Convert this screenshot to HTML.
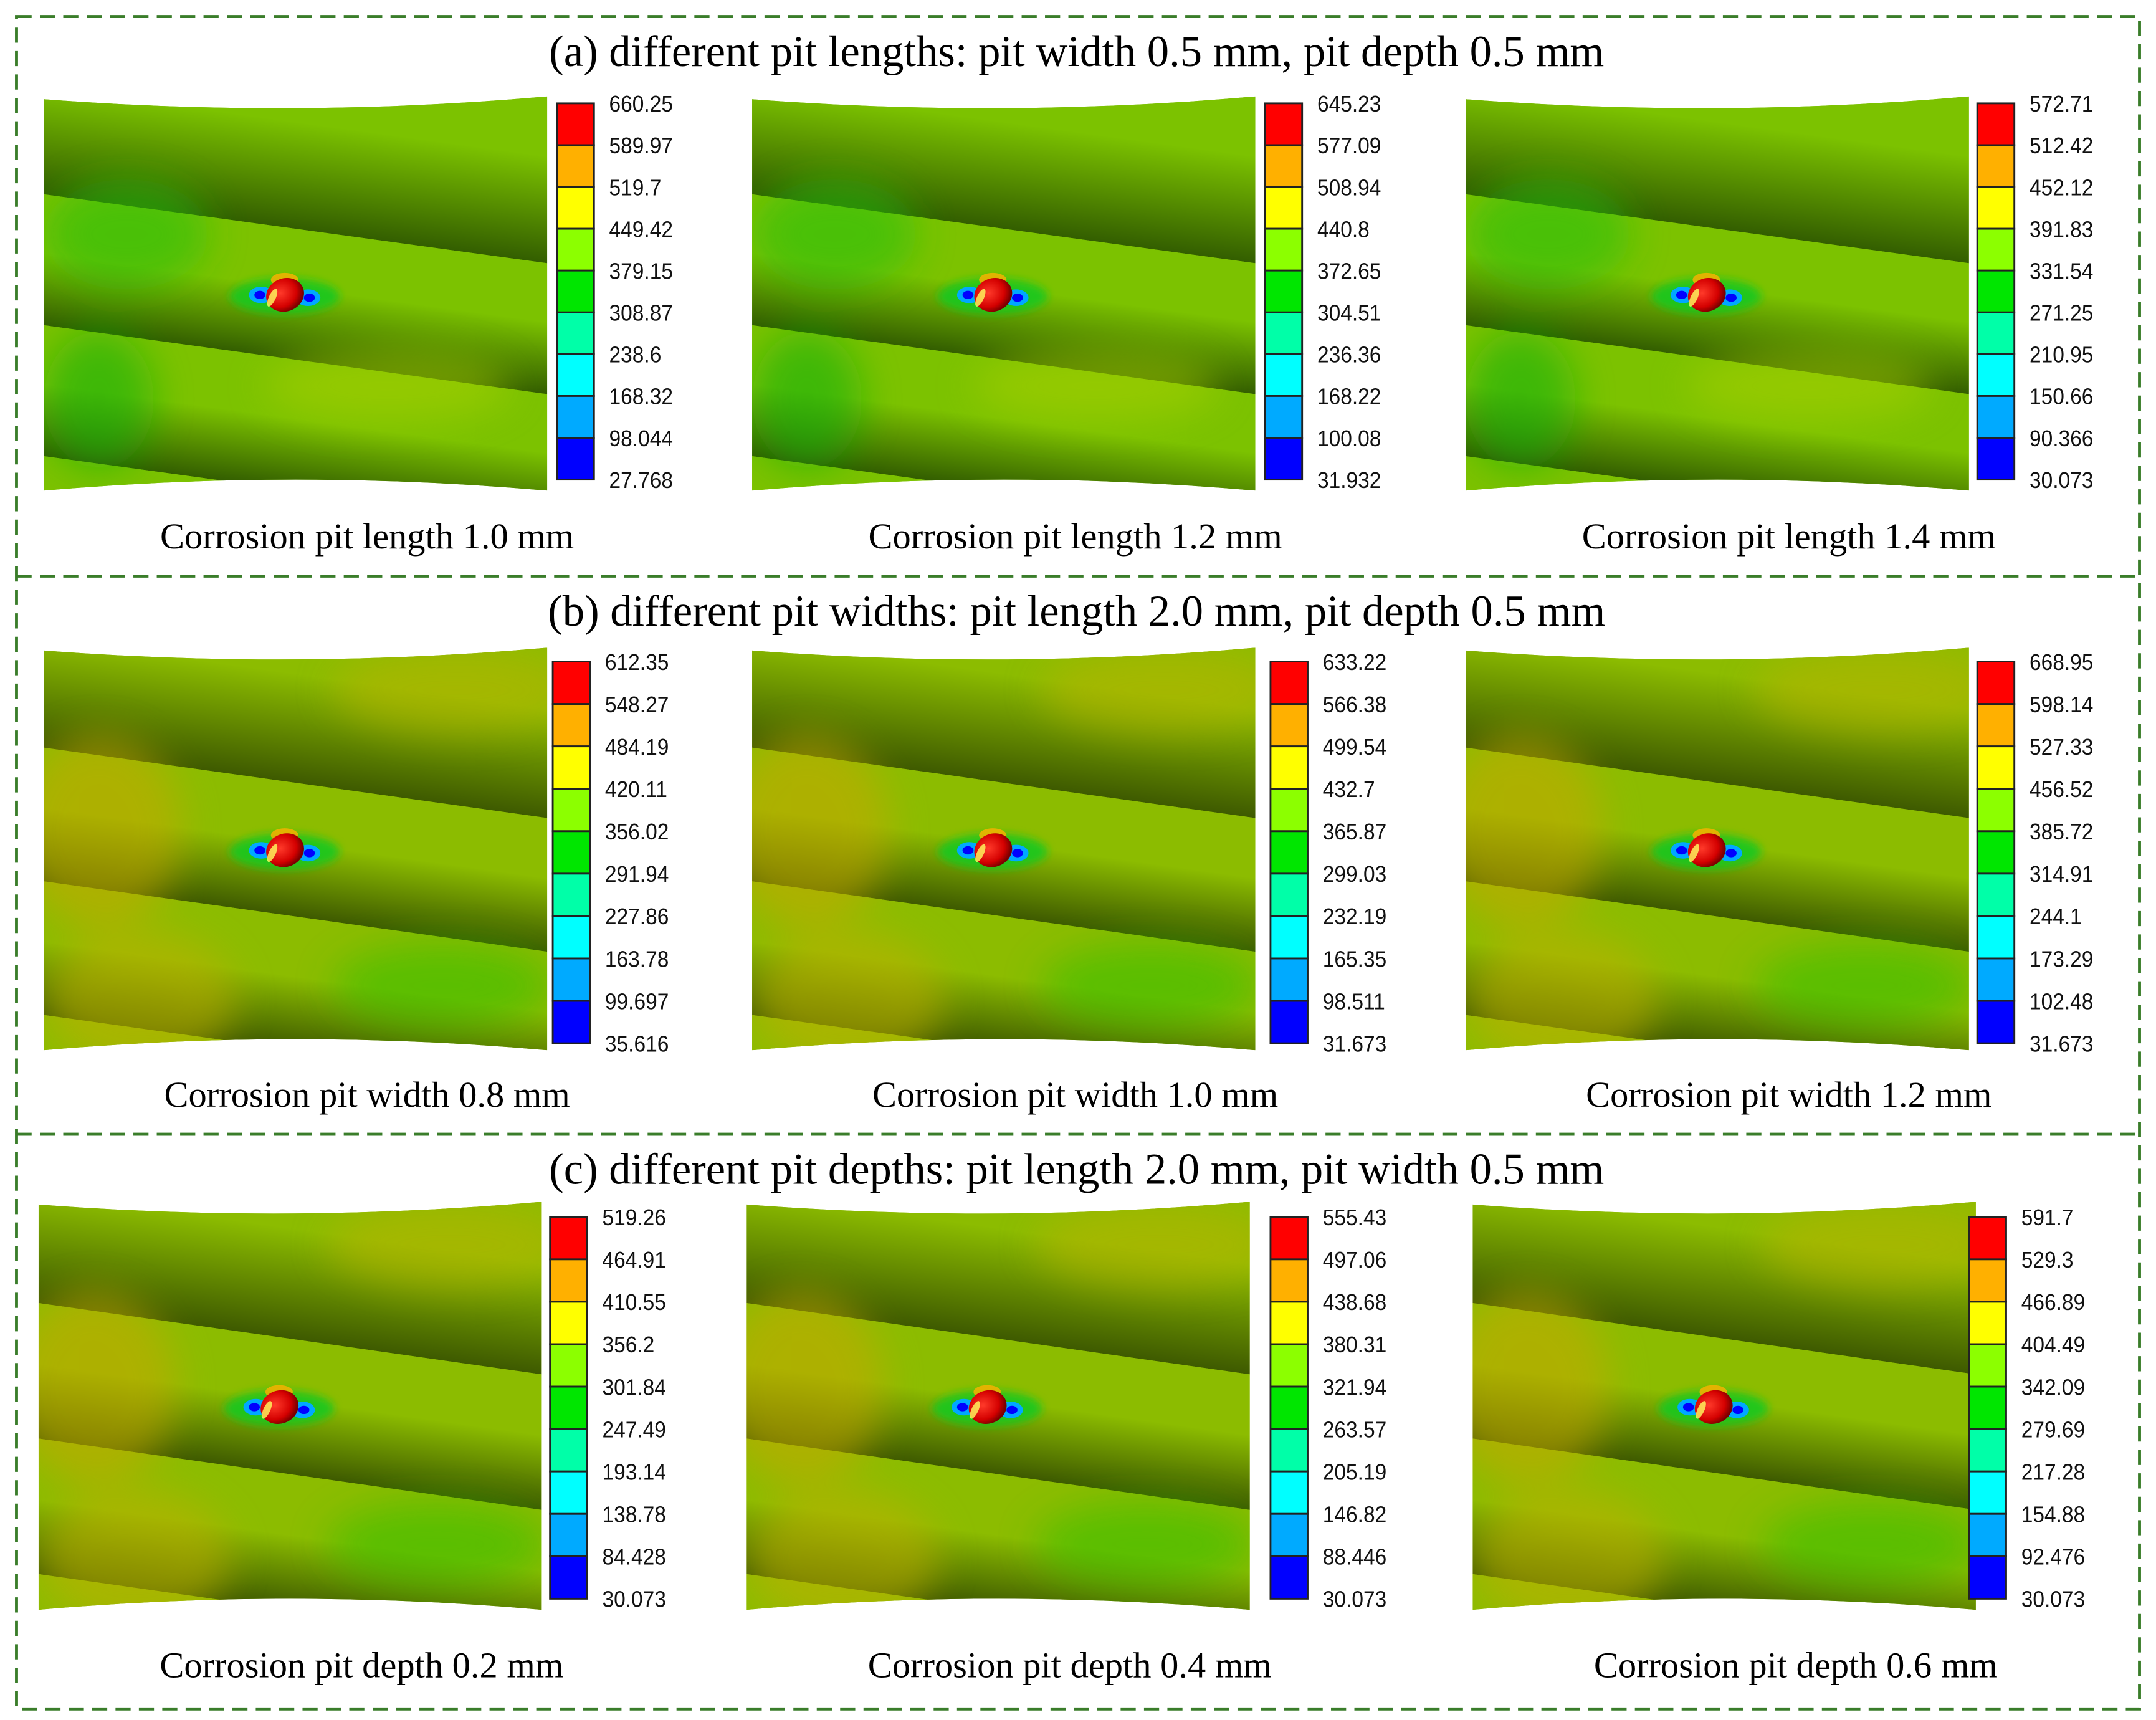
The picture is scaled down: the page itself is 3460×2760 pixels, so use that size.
<!DOCTYPE html>
<html><head><meta charset="utf-8"><style>
html,body{margin:0;padding:0;background:#fff}
svg{display:block}
</style></head><body>
<svg id="fig" width="3460" height="2760" viewBox="0 0 1568 1248" preserveAspectRatio="none" xmlns="http://www.w3.org/2000/svg">
<defs>
<filter id="blur" x="-50%" y="-50%" width="200%" height="200%"><feGaussianBlur stdDeviation="14"/></filter>
<filter id="blur2" x="-50%" y="-50%" width="200%" height="200%"><feGaussianBlur stdDeviation="3"/></filter>
<radialGradient id="pitg" cx="0.4" cy="0.4" r="0.6"><stop offset="0" stop-color="#ff3a2a"/><stop offset="0.7" stop-color="#d40000"/><stop offset="1" stop-color="#7a0000"/></radialGradient>
</defs>
<g fill="none" stroke="#3a7d2a" stroke-width="2.2" stroke-dasharray="11,6">
<rect x="12" y="12" width="1544" height="1228"/>
<line x1="12" y1="418" x2="1556" y2="418"/>
<line x1="12" y1="823" x2="1556" y2="823"/>
</g>
<g id="content"></g>
</svg>
<script>
const NS='http://www.w3.org/2000/svg';
const rowTitles=['(a) different pit lengths: pit width 0.5 mm, pit depth 0.5 mm','(b) different pit widths: pit length 2.0 mm, pit depth 0.5 mm','(c) different pit depths: pit length 2.0 mm, pit width 0.5 mm'];
const captions=[['Corrosion pit length 1.0 mm','Corrosion pit length 1.2 mm','Corrosion pit length 1.4 mm'],['Corrosion pit width 0.8 mm','Corrosion pit width 1.0 mm','Corrosion pit width 1.2 mm'],['Corrosion pit depth 0.2 mm','Corrosion pit depth 0.4 mm','Corrosion pit depth 0.6 mm']];
const labelsA1=['660.25','589.97','519.7','449.42','379.15','308.87','238.6','168.32','98.044','27.768'];
const labelsA2=['645.23','577.09','508.94','440.8','372.65','304.51','236.36','168.22','100.08','31.932'];
const labelsA3=['572.71','512.42','452.12','391.83','331.54','271.25','210.95','150.66','90.366','30.073'];
const labelsB1=['612.35','548.27','484.19','420.11','356.02','291.94','227.86','163.78','99.697','35.616'];
const labelsB2=['633.22','566.38','499.54','432.7','365.87','299.03','232.19','165.35','98.511','31.673'];
const labelsB3=['668.95','598.14','527.33','456.52','385.72','314.91','244.1','173.29','102.48','31.673'];
const labelsC1=['519.26','464.91','410.55','356.2','301.84','247.49','193.14','138.78','84.428','30.073'];
const labelsC2=['555.43','497.06','438.68','380.31','321.94','263.57','205.19','146.82','88.446','30.073'];
const labelsC3=['591.7','529.3','466.89','404.49','342.09','279.69','217.28','154.88','92.476','30.073'];
const allLabels=[[labelsA1,labelsA2,labelsA3],[labelsB1,labelsB2,labelsB3],[labelsC1,labelsC2,labelsC3]];
const barColors=['#ff0000','#ffb000','#ffff00','#8cff00','#00e600','#00ffa8','#00ffff','#00aaff','#0000ff'];

const panelX=[[32,547,1066],[32,547,1066],[28,543,1071]];
const panelW=366;
const rowY=[[70,356],[470,762],[872,1168]];
const titleY=[38,444,849];
const capY=[389,794,1208];
const barX=[[405,920,1438],[402,924,1438],[400,924,1432]];
const barY=[[75,348],[480,757],[883,1160]];

const root=document.getElementById('content');
function mk(tag,attrs,parent){const e=document.createElementNS(NS,tag);for(const k in attrs)e.setAttribute(k,attrs[k]);(parent||root).appendChild(e);return e;}
let gid=0;
function tube(g,x0,x1,yTopL,yTopR,h,light,dark){
  const id='tg'+(gid++);
  const dx=x1-x0,dy=yTopR-yTopL,L=Math.hypot(dx,dy);
  const px=-dy/L,py=dx/L,d=h*dx/L;
  const mx=(x0+x1)/2,my=(yTopL+yTopR)/2;
  const lg=mk('linearGradient',{id:id,gradientUnits:'userSpaceOnUse',x1:mx,y1:my,x2:mx+px*d,y2:my+py*d},document.querySelector('defs'));
  mk('stop',{offset:0,'stop-color':light},lg);
  mk('stop',{offset:0.45,'stop-color':light},lg);
  mk('stop',{offset:1,'stop-color':dark},lg);
  mk('polygon',{points:`${x0},${yTopL} ${x1},${yTopR} ${x1},${yTopR+h} ${x0},${yTopL+h}`,fill:`url(#${id})`},g);
}
for(let r=0;r<3;r++){
  const t=mk('text',{x:783,y:titleY[r]+10,'text-anchor':'middle','font-family':'Liberation Serif, serif','font-size':32,fill:'#000'});
  
  
  t.textContent=rowTitles[r];
  for(let p=0;p<3;p++){
    const x0=panelX[r][p],x1=x0+panelW,y0=rowY[r][0],y1=rowY[r][1],H=y1-y0,k=H/286;
    const g=mk('g',{});
    
    
    const cid='cp'+r+p;
    const cp=mk('clipPath',{id:cid},document.querySelector('defs'));
    const mxp=x0+panelW*0.5;
    mk('path',{d:`M${x0},${y0+2} Q${mxp},${y0+16} ${x1},${y0} L${x1},${y1} Q${mxp},${y1-16} ${x0},${y1} Z`},cp);
    const ig=mk('g',{'clip-path':`url(#${cid})`},g);
    const yellowish=r>0;
    const light=yellowish?'#8cbc00':'#7cc200', dark=yellowish?'#3e5a00':'#335e00';
    mk('rect',{x:x0,y:y0,width:panelW,height:H,fill:light},ig);
    const b=[ -70, 71, 166, 261, 356 ];
    for(let i=0;i<b.length-1;i++){
      tube(ig,x0,x1,y0+b[i]*k,y0+(b[i]+50)*k,(b[i+1]-b[i])*k,light,dark);
    }
    const pg=mk('g',{filter:'url(#blur)',opacity:0.55},ig);
    if(yellowish){
      mk('ellipse',{cx:x0+40,cy:y0+130*k,rx:60,ry:70,fill:'#c8a800'},pg);
      mk('ellipse',{cx:x0+300,cy:y0+30*k,rx:90,ry:30,fill:'#b8b400'},pg);
      mk('ellipse',{cx:x0+70,cy:y0+250*k,rx:70,ry:50,fill:'#c0b000'},pg);
      mk('ellipse',{cx:x0+290,cy:y0+240*k,rx:80,ry:30,fill:'#30c000'},pg);
    } else {
      mk('ellipse',{cx:x0+60,cy:y0+100*k,rx:60,ry:40,fill:'#20c010'},pg);
      mk('ellipse',{cx:x0+40,cy:y0+220*k,rx:40,ry:50,fill:'#10b010'},pg);
      mk('ellipse',{cx:x0+250,cy:y0+210*k,rx:90,ry:25,fill:'#a8d000'},pg);
    }
    const cx=x0+175,cy=y0+143*k;
    const pit=mk('g',{},ig);
    
    
    const hg=mk('g',{filter:'url(#blur2)'},pit);
    mk('ellipse',{cx:cx,cy:cy+2,rx:40,ry:13,fill:'#18c820',opacity:0.9},hg);
    mk('ellipse',{cx:cx-17,cy:cy+1,rx:9,ry:6,fill:'#00a8ff'},pit);
    mk('ellipse',{cx:cx+17,cy:cy+3,rx:9,ry:6,fill:'#00a8ff'},pit);
    mk('ellipse',{cx:cx-18,cy:cy+1,rx:4,ry:3,fill:'#0000ff'},pit);
    mk('ellipse',{cx:cx+18,cy:cy+3,rx:4,ry:3,fill:'#0000ff'},pit);
    mk('ellipse',{cx:cx,cy:cy-10,rx:10,ry:5,fill:'#ffb000',opacity:0.8},pit);
    mk('ellipse',{cx:cx,cy:cy+1,rx:14,ry:12,fill:'url(#pitg)',transform:`rotate(-20 ${cx} ${cy})`},pit);
    mk('ellipse',{cx:cx-9,cy:cy+3,rx:2.5,ry:7,fill:'#ffff60',opacity:0.8,transform:`rotate(25 ${cx-9} ${cy+3})`},pit);
    const bx=barX[r][p],by0=barY[r][0],by1=barY[r][1],seg=(by1-by0)/9;
    const cb=mk('g',{});
    
    
    for(let i=0;i<9;i++){
      mk('rect',{x:bx,y:by0+i*seg,width:27,height:seg,fill:barColors[i],stroke:'#222','stroke-width':1.3},cb);
    }
    const labs=allLabels[r][p];
    for(let i=0;i<labs.length;i++){
      const tt=mk('text',{x:bx+38,y:by0+i*seg+6,'font-family':'Liberation Sans, sans-serif','font-size':16.5,fill:'#111',transform:`scale(0.92,1)`,'transform-origin':`${bx+38} 0`},cb);
      
      
      tt.textContent=labs[i];
    }
    const c=mk('text',{x:x0+235,y:capY[r]+9,'text-anchor':'middle','font-family':'Liberation Serif, serif','font-size':26.5,fill:'#000'});
    
    
    c.textContent=captions[r][p];
  }
}
</script>
</body></html>
